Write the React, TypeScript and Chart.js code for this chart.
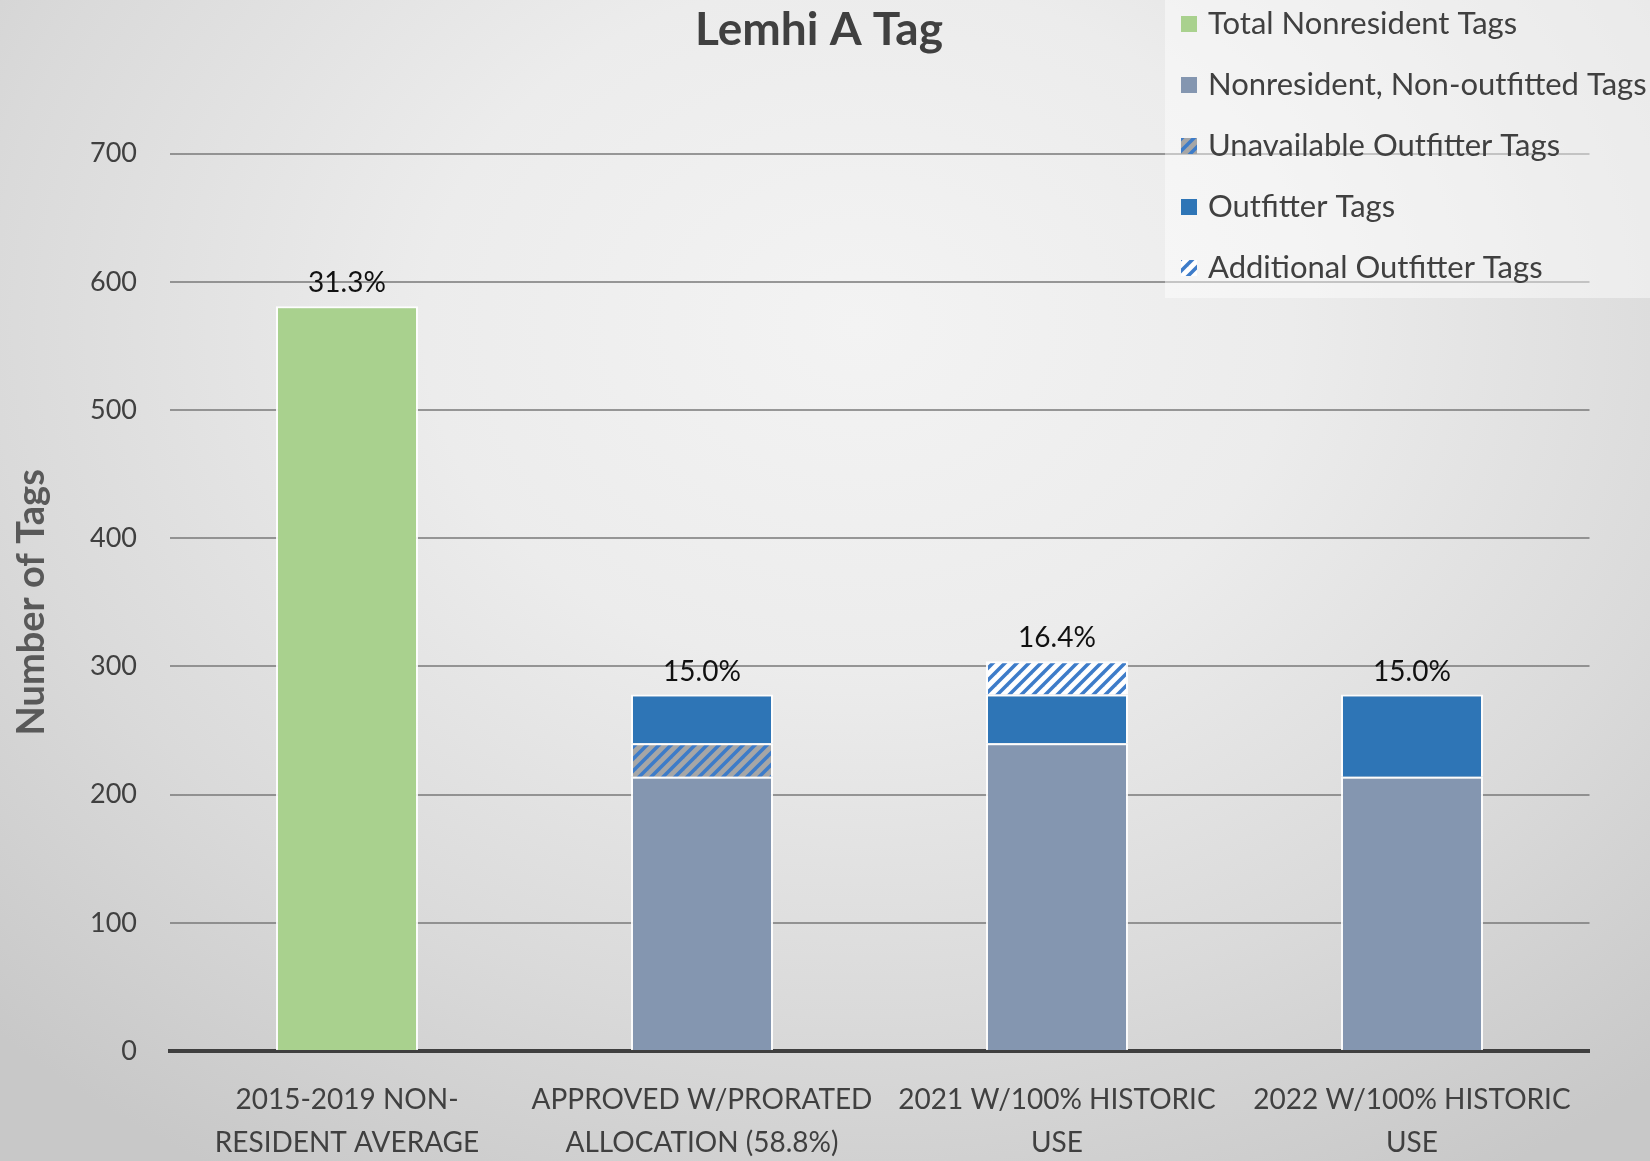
import React, { useEffect, useRef } from "react";
import { Chart, registerables } from "chart.js";

Chart.register(...registerables);

const chartTitle = "Lemhi A Tag";
const categories: string[][] = [
  ["2015-2019 NON-", "RESIDENT AVERAGE"],
  ["APPROVED W/PRORATED", "ALLOCATION (58.8%)"],
  ["2021 W/100% HISTORIC", "USE"],
  ["2022 W/100% HISTORIC", "USE"],
];
const totalNonresident: (number | null)[] = [581, null, null, null];
const nonOutfitted: (number | null)[] = [null, 214, 240, 214];
const unavailableOutfitter: (number | null)[] = [null, 26, null, null];
const outfitterTags: (number | null)[] = [null, 38, 38, 64];
const additionalOutfitter: (number | null)[] = [null, null, 26, null];
const percentLabels: string[] = ["31.3%", "15.0%", "16.4%", "15.0%"];
const yTicks: number[] = [0, 100, 200, 300, 400, 500, 600, 700];

const seriesNames = [
  "Total Nonresident Tags",
  "Nonresident, Non-outfitted Tags",
  "Unavailable Outfitter Tags",
  "Outfitter Tags",
  "Additional Outfitter Tags",
];

const GREEN = "#a9d18e";
const GRAY = "#8496b0";
const BLUE = "#2e75b6";

function makeStripes(bg: string, fg: string): CanvasPattern | string {
  const size = 12;
  const c = document.createElement("canvas");
  c.width = size;
  c.height = size;
  const ctx = c.getContext("2d");
  if (!ctx) return fg;
  ctx.fillStyle = bg;
  ctx.fillRect(0, 0, size, size);
  ctx.strokeStyle = fg;
  ctx.lineWidth = 3.5;
  ctx.lineCap = "square";
  for (const o of [-size, 0, size]) {
    ctx.beginPath();
    ctx.moveTo(o, size);
    ctx.lineTo(o + size, 0);
    ctx.stroke();
  }
  const p = ctx.createPattern(c, "repeat");
  return p || fg;
}

export default function App() {
  const ref = useRef<HTMLCanvasElement | null>(null);

  useEffect(() => {
    if (!ref.current) return;
    const unavailPattern = makeStripes("#a6a6a6", "#3d7cc9");
    const additionalPattern = makeStripes("#ffffff", "#3d7cc9");
    const legendFills: (string | CanvasPattern)[] = [GREEN, GRAY, unavailPattern, BLUE, additionalPattern];

    const dataLabelPlugin = {
      id: "pctLabels",
      afterDatasetsDraw(chart: any) {
        const ctx = chart.ctx;
        const xs = chart.scales.x;
        const ys = chart.scales.y;
        ctx.save();
        ctx.font = "28px Lato";
        ctx.fillStyle = "#111";
        ctx.textAlign = "center";
        ctx.textBaseline = "middle";
        for (let i = 0; i < categories.length; i++) {
          let total = 0;
          chart.data.datasets.forEach((ds: any) => {
            const v = ds.data[i];
            if (typeof v === "number") total += v;
          });
          const x = xs.getPixelForValue(i);
          const y = ys.getPixelForValue(total);
          ctx.fillText(percentLabels[i], x, y - 23);
        }
        ctx.restore();
      },
    };

    const titleAndLegendPlugin = {
      id: "customLegend",
      afterDraw(chart: any) {
        const ctx = chart.ctx;
        ctx.save();
        ctx.font = "bold 46px Lato";
        ctx.fillStyle = "#404040";
        ctx.textAlign = "center";
        ctx.textBaseline = "middle";
        ctx.fillText(chartTitle, 819, 30);

        ctx.fillStyle = "rgba(255,255,255,0.45)";
        ctx.fillRect(1165, 0, 485, 298);
        ctx.font = "31px Lato";
        ctx.textAlign = "left";
        ctx.textBaseline = "middle";
        for (let i = 0; i < seriesNames.length; i++) {
          const cy = 24 + i * 61;
          ctx.fillStyle = legendFills[i];
          ctx.fillRect(1181, cy - 8, 16, 16);
          ctx.fillStyle = "#404040";
          ctx.fillText(seriesNames[i], 1208, cy);
        }
        ctx.restore();
      },
    };

    const common = { borderColor: "rgba(255,255,255,0.9)", borderWidth: 2, categoryPercentage: 0.8, barPercentage: 0.5 };

    const chart = new Chart(ref.current, {
      type: "bar",
      data: {
        labels: categories,
        datasets: [
          { label: seriesNames[0], data: totalNonresident, backgroundColor: GREEN, ...common },
          { label: seriesNames[1], data: nonOutfitted, backgroundColor: GRAY, ...common },
          { label: seriesNames[2], data: unavailableOutfitter, backgroundColor: unavailPattern as any, ...common },
          { label: seriesNames[3], data: outfitterTags, backgroundColor: BLUE, ...common },
          { label: seriesNames[4], data: additionalOutfitter, backgroundColor: additionalPattern as any, ...common },
        ] as any,
      },
      options: {
        responsive: false,
        animation: false,
        devicePixelRatio: 1,
        layout: { padding: { left: 0, right: 60.5, top: 153.6, bottom: 0 } },
        plugins: {
          legend: { display: false },
          tooltip: { enabled: false },
          title: { display: false },
        },
        scales: {
          x: {
            stacked: true,
            z: 1,
            grid: { display: false, drawTicks: false },
            border: { display: true, color: "#3f3f3f", width: 4 },
            ticks: {
              color: "#404040",
              font: { family: "Lato", size: 28, lineHeight: 1.55 },
              padding: 27,
              maxRotation: 0,
              autoSkip: false,
            },
            afterFit: (scale: any) => {
              scale.height = 110;
            },
          },
          y: {
            stacked: true,
            min: 0,
            max: 700,
            afterBuildTicks: (scale: any) => {
              scale.ticks = yTicks.map((v) => ({ value: v }));
            },
            grid: { color: "rgba(120,120,120,0.75)", lineWidth: 2, drawTicks: false },
            border: { display: false },
            ticks: {
              color: "#404040",
              font: { family: "Lato", size: 27 },
              padding: 32.5,
            },
            title: {
              display: true,
              text: "Number of Tags",
              color: "#595959",
              font: { family: "Lato", size: 38, weight: "bold", lineHeight: 1.2 },
              padding: { top: 9, bottom: 0 },
            },
            afterFit: (scale: any) => {
              scale.width = 169.5;
            },
          },
        },
      } as any,
      plugins: [dataLabelPlugin, titleAndLegendPlugin],
    });
    return () => chart.destroy();
  }, []);

  return (
    <div
      style={{
        position: "absolute",
        left: 0,
        top: 0,
        width: 1650,
        height: 1161,
        background:
          "radial-gradient(ellipse 75% 85% at 52% 28%, #f3f3f3 0%, #ececec 35%, #dadada 70%, #c8c8c8 100%)",
      }}
    >
      <canvas ref={ref} width={1650} height={1161} style={{ width: 1650, height: 1161, display: "block" }} />
    </div>
  );
}
